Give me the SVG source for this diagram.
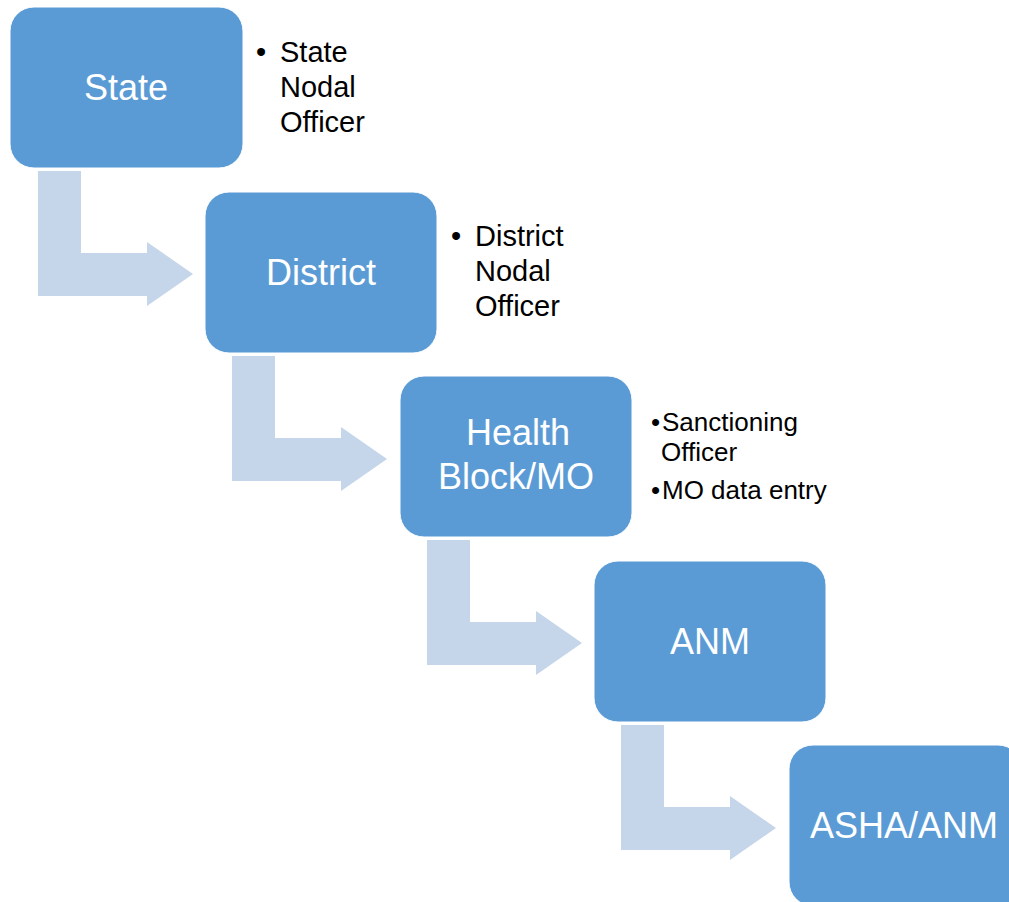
<svg xmlns="http://www.w3.org/2000/svg" width="1009" height="902" viewBox="0 0 1009 902">
<defs>
<style>
.box{fill:#5B9BD5;stroke:#ffffff;stroke-width:1}
.lbl{font-family:"Liberation Sans",Arial,sans-serif;font-size:36px;fill:#ffffff;text-anchor:middle}
.side{font-family:"Liberation Sans",Arial,sans-serif;font-size:29px;fill:#000000}
.side2{font-family:"Liberation Sans",Arial,sans-serif;font-size:26px;fill:#000000}
.arr{fill:#C5D5EA}
</style>
<path id="bent" d="M0 0 h43 v82 h66 v-11 l46 32 l-46 32 v-10 h-109 z"/>
</defs>
<rect width="1009" height="902" fill="#ffffff"/>
<g id="connectors">
<use href="#bent" class="arr" x="38" y="171"/>
<use href="#bent" class="arr" x="232" y="356"/>
<use href="#bent" class="arr" x="427" y="540"/>
<use href="#bent" class="arr" x="621" y="725"/>
</g>
<g id="state">
<rect class="box" x="10" y="7" width="233" height="161" rx="24"/>
<text class="lbl" x="126" y="100">State</text>
</g>
<g id="state-notes">
<text class="side" x="256" y="62">•</text>
<text class="side" x="280" y="62">State</text>
<text class="side" x="280" y="97">Nodal</text>
<text class="side" x="280" y="132">Officer</text>
</g>
<g id="district">
<rect class="box" x="205" y="192" width="232" height="161" rx="24"/>
<text class="lbl" x="321" y="285">District</text>
</g>
<g id="district-notes">
<text class="side" x="451" y="246">•</text>
<text class="side" x="475" y="246">District</text>
<text class="side" x="475" y="281">Nodal</text>
<text class="side" x="475" y="316">Officer</text>
</g>
<g id="health">
<rect class="box" x="400" y="376" width="232" height="161" rx="24"/>
<text class="lbl" x="518" y="445">Health</text>
<text class="lbl" x="516" y="489">Block/MO</text>
</g>
<g id="health-notes">
<text class="side2" x="651" y="431">•</text>
<text class="side2" x="662" y="431">Sanctioning</text>
<text class="side2" x="661" y="461">Officer</text>
<text class="side2" x="651" y="499">•</text>
<text class="side2" x="662" y="499">MO data entry</text>
</g>
<g id="anm">
<rect class="box" x="594" y="561" width="232" height="161" rx="24"/>
<text class="lbl" x="710" y="654">ANM</text>
</g>
<g id="asha">
<rect class="box" x="789" y="745" width="233" height="161" rx="24"/>
<text class="lbl" x="904" y="838">ASHA/ANM</text>
</g>
</svg>
